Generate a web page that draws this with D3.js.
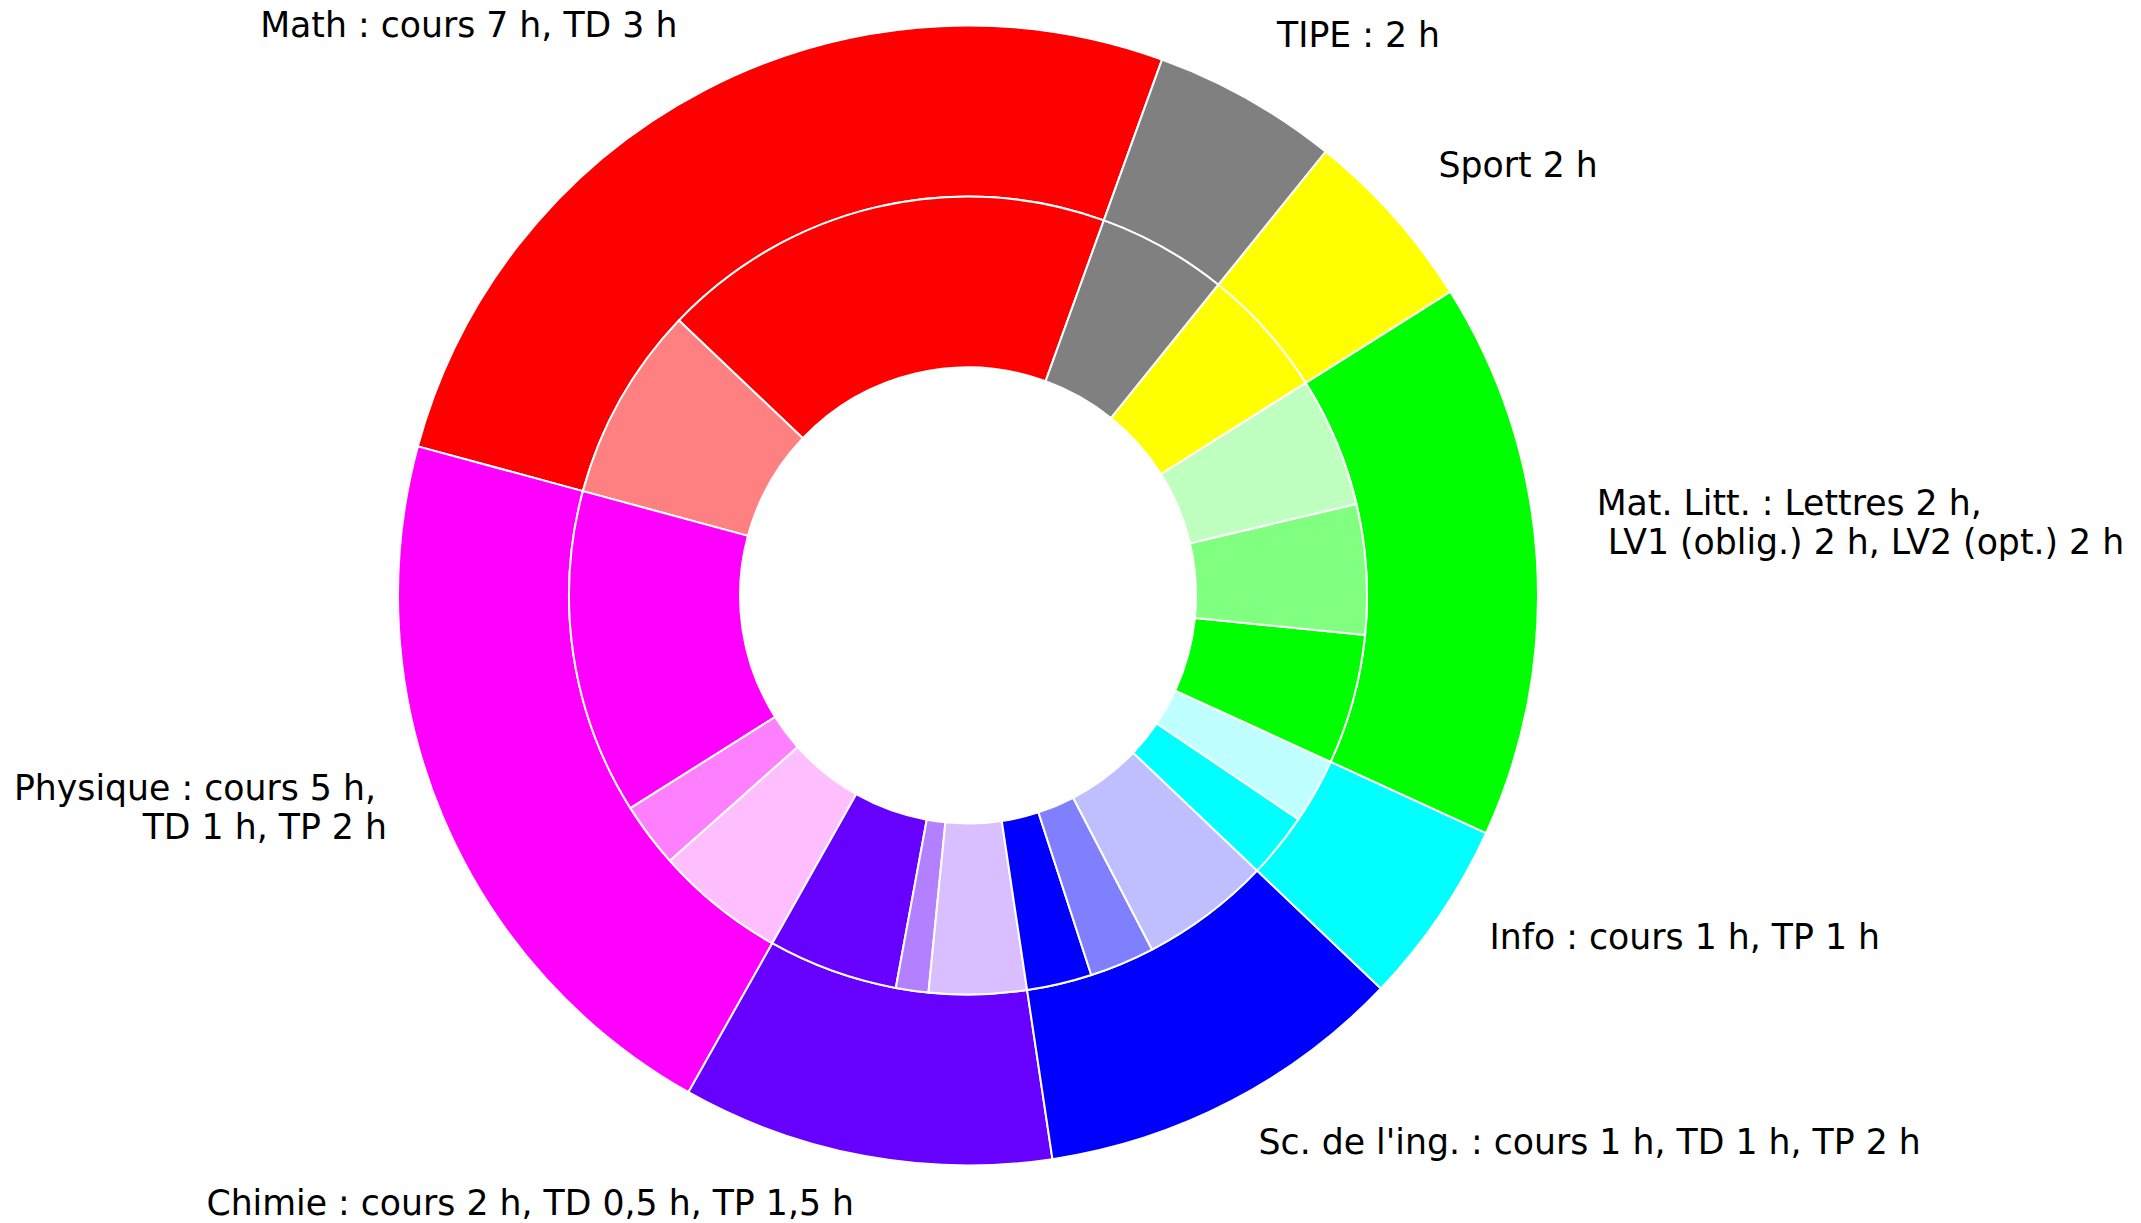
<!DOCTYPE html>
<html>
<head>
<meta charset="utf-8">
<script src="https://cdn.jsdelivr.net/npm/d3@7"></script>
<style>
  body { margin: 0; background: #fff; }
  text { font-family: "DejaVu Sans", sans-serif; font-size: 34.7px; fill: #000; white-space: pre; }
</style>
</head>
<body>
<svg id="chart" width="2141" height="1223"></svg>
<script>
// subjects, counter-clockwise from the Math / TIPE boundary
let subjects = ["Math", "Physique", "Chimie", "Sc. de l'ing.", "Info", "Mat. Litt.", "Sport", "TIPE"];
let labels = [
    "Math : cours 7 h, TD 3 h",
    "Physique : cours 5 h, \nTD 1 h, TP 2 h",
    "Chimie : cours 2 h, TD 0,5 h, TP 1,5 h",
    "Sc. de l'ing. : cours 1 h, TD 1 h, TP 2 h",
    "Info : cours 1 h, TP 1 h",
    "Mat. Litt. : Lettres 2 h,\n LV1 (oblig.) 2 h, LV2 (opt.) 2 h",
    "Sport 2 h",
    "TIPE : 2 h"
];
let baseColors = ["#ff0000", "#ff00ff", "#6600ff", "#0000ff", "#00ffff", "#00ff00", "#ffff00", "#808080"];
let innerKinds = [
    ["cours", "TD"],
    ["cours", "TD", "TP"],
    ["cours", "TD", "TP"],
    ["cours", "TD", "TP"],
    ["cours", "TP"],
    ["Lettres", "LV1", "LV2"],
    ["Sport"],
    ["TIPE"]
];
let innerHours = [
    [7, 3],
    [5, 1, 2],
    [2, 0.5, 1.5],
    [1, 1, 2],
    [1, 1],
    [2, 2, 2],
    [2],
    [2]
];
// how much white is mixed into the subject colour
let shade = { cours: 0, TD: 0.5, TP: 0.75, Lettres: 0, LV1: 0.5, LV2: 0.75, Sport: 0, TIPE: 0 };

let cx = 968, cy = 595.5, R = 570;
let startAngle = 19.9 * Math.PI / 180;

let svg = d3.select('#chart');
let g = svg.append('g').attr('transform', `translate(${cx},${cy})`);

let outerData = subjects.map((s, i) => ({ name: s, label: labels[i], color: baseColors[i], value: d3.sum(innerHours[i]) }));
let innerData = [];
subjects.forEach((s, i) => {
    innerHours[i].forEach((h, j) => {
        innerData.push({ name: s + ' ' + innerKinds[i][j], value: h, color: d3.interpolateRgb(baseColors[i], '#ffffff')(shade[innerKinds[i][j]]) });
    });
});

let pie = d3.pie().sort(null).value(d => d.value)
    .startAngle(startAngle).endAngle(startAngle - 2 * Math.PI);

let outerArc = d3.arc().innerRadius(R * 0.7).outerRadius(R);
let innerArc = d3.arc().innerRadius(R * 0.4).outerRadius(R * 0.7);

let outerArcs = pie(outerData);

g.append('g').selectAll('path')
    .data(outerArcs)
    .enter()
    .append('path')
    .attr('d', outerArc)
    .attr('fill', d => d.data.color)
    .attr('stroke', 'white')
    .attr('stroke-width', 2)
    .attr('stroke-linejoin', 'round');

g.append('g').selectAll('path')
    .data(pie(innerData))
    .enter()
    .append('path')
    .attr('d', innerArc)
    .attr('fill', d => d.data.color)
    .attr('stroke', 'white')
    .attr('stroke-width', 2)
    .attr('stroke-linejoin', 'round');

let labelR = R * 1.1 + 3, lineH = 39;
let labelG = g.append('g');
outerArcs.forEach(d => {
    let a = (d.startAngle + d.endAngle) / 2;
    let x = labelR * Math.sin(a), y = -labelR * Math.cos(a);
    let lines = d.data.label.split('\n');
    let t = labelG.append('text')
        .attr('text-anchor', x > 0 ? 'start' : 'end');
    lines.forEach((line, k) => {
        t.append('tspan')
            .attr('x', x)
            .attr('y', y - (lines.length - 1 - k) * lineH)
            .text(line);
    });
});
</script>
</body>
</html>
